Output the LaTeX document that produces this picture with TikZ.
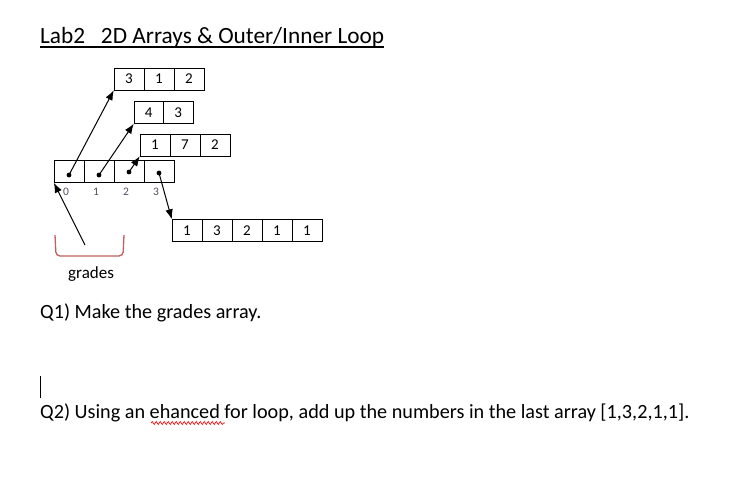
\documentclass[tikz,border=0pt]{standalone}
\usepackage{fontspec}
\setmainfont{Carlito}
\usetikzlibrary{decorations.pathmorphing, arrows.meta}

\definecolor{bracketred}{HTML}{C0605E}
\definecolor{idxgray}{HTML}{5A4A60}

\tikzset{
  cell/.style={draw, minimum width=30pt, minimum height=22pt, inner sep=0pt,
    font=\fontsize{15}{15}\selectfont},
  idx/.style={font=\fontsize{11.5}{11.5}\selectfont, text=idxgray, inner sep=0pt},
  txt/.style={anchor=base west, inner sep=0pt},
  ptr/.style={-{Latex[length=10pt, width=7.5pt]}, line width=1pt},
}

\begin{document}
\begin{tikzpicture}[x=1pt, y=-1pt]
        \useasboundingbox (0,0) rectangle (730,485);
        \def \cw {30}

        % title
        \node[txt, font=\fontsize{23.3}{23.3}\selectfont] at (40,43) (title) {Lab2\ \ \ 2D Arrays \& Outer/Inner Loop};
        \draw[line width=1.1pt] ([yshift=-4pt]title.base west) -- ([yshift=-4pt]title.base east);

        % grades array with index labels
        \foreach \i in {0,1,2,3}{
          \node[cell] at ({69+\i*\cw},171.5) (g\i) {};
          \node[idx] at ({66+\i*\cw},192) (n\i) {\i};
        }

        % the rows
        \foreach \v [count=\ni from 0] in {3,1,2}
          \node[cell] at ({129+\ni*\cw},79) (a\ni) {\v};
        \foreach \v [count=\ni from 0] in {4,3}
          \node[cell, minimum width=29.5pt] at ({148.75+\ni*29.5},112.5) (b\ni) {\v};
        \foreach \v [count=\ni from 0] in {1,7,2}
          \node[cell] at ({155+\ni*\cw},145) (c\ni) {\v};
        \foreach \v [count=\ni from 0] in {1,3,2,1,1}
          \node[cell] at ({187+\ni*\cw},230.5) (d\ni) {\v};

        % pointers
        \foreach \i/\dy in {0/-3.5,1/-3.5,2/-0.5,3/-1.5}
          \coordinate (p\i) at ([yshift=\dy pt]g\i.center);
        \foreach \i in {0,1,2,3}
          \fill (p\i) circle (2.4pt);
        \draw[ptr] (p0) -- (a0.south west);
        \draw[ptr] (p1) -- (b0.south west);
        \draw[ptr] (p2) -- (c0.south west);
        \draw[ptr] (p3) -- (d0.north west);

        % bracket and name
        \draw[bracketred, line width=1.3pt, rounded corners=4pt]
          (55,235) -- (56,256) -- (123,256) -- (124,235);
        \coordinate (br) at (85,245);
        \draw[ptr] (br) -- (g0.south west);
        \node[txt, font=\fontsize{17}{17}\selectfont] at (68,278) (gname) {grades};

        % questions
        \node[txt, font=\fontsize{20.2}{20.2}\selectfont] at (40,318) (q1) {Q1) Make the grades array.};
        \draw[line width=0.9pt] (40.5,376) -- (40.5,398);
        \node[txt, font=\fontsize{20.2}{20.2}\selectfont] at (40,418) (q2) {Q2) Using an ehanced for loop, add up the numbers in the last array [1,3,2,1,1].};
        \draw[red, line width=0.6pt, decorate, decoration={snake, amplitude=1.5pt, segment length=4pt}]
          (151,423) -- (225,423);
\end{tikzpicture}
\end{document}
